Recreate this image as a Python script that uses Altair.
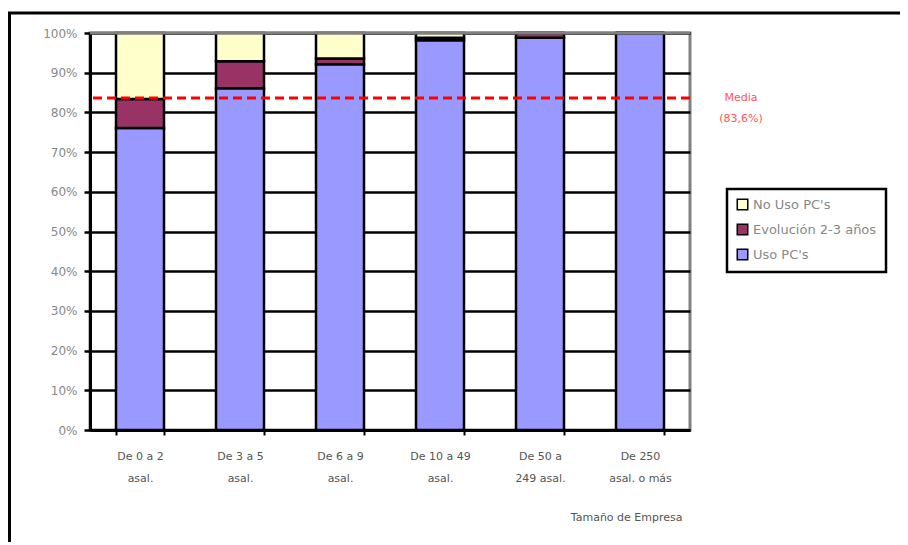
import altair as alt
import pandas as pd

categories = ["De 0 a 2|asal.", "De 3 a 5|asal.", "De 6 a 9|asal.",
              "De 10 a 49|asal.", "De 50 a|249 asal.", "De 250|asal. o más"]
series = ["No Uso PC's", "Evolución 2-3 años", "Uso PC's"]
uso = [76.1, 86.1, 92.1, 98.2, 98.8, 100.0]
evol = [7.3, 6.8, 1.5, 0.6, 1.2, 0.0]
no_uso = [16.6, 7.1, 6.4, 1.2, 0.0, 0.0]
media = 83.6
ytick_values = [0, 10, 20, 30, 40, 50, 60, 70, 80, 90, 100]
colors = ["#FFFFCC", "#993366", "#9999FF"]

rows = []
for i, c in enumerate(categories):
    for s, vals, o in [(series[2], uso, 0), (series[1], evol, 1), (series[0], no_uso, 2)]:
        rows.append({"cat": c, "serie": s, "val": vals[i], "ord": o})
df = pd.DataFrame(rows)

FONT = "DejaVu Sans"

frame = alt.Chart(pd.DataFrame({"a": [0]})).mark_rect(
    fill=None, stroke="black", strokeWidth=3, clip=False
).encode(x=alt.value(-80.5), x2=alt.value(1000), y=alt.value(-20), y2=alt.value(700))

yscale = alt.Scale(domain=[0, 100])
yaxis = alt.Axis(title=None, values=ytick_values,
                 labelExpr="datum.value + '%'",
                 labelFont=FONT, labelFontSize=12, labelColor="#888888",
                 labelPadding=7,
                 grid=True, gridColor="black", gridWidth=2.5,
                 tickColor="black", tickWidth=2.5, tickSize=6,
                 domainColor="black", domainWidth=3)

bars = alt.Chart(df).mark_bar(stroke="black", strokeWidth=2.5).encode(
    x=alt.X("cat:N", sort=categories,
            scale=alt.Scale(paddingInner=0.52, paddingOuter=0.26),
            axis=alt.Axis(title="Tamaño de Empresa", labelAngle=0,
                          labelExpr="split(datum.label, '|')",
                          labelFont=FONT, labelFontSize=11, labelColor="#555555",
                          labelPadding=15, labelLineHeight=22,
                          tickBand="extent", tickColor="black", tickWidth=2, tickSize=5,
                          domainColor="black", domainWidth=3,
                          titleFont=FONT, titleFontSize=11, titleFontWeight="normal",
                          titleColor="#555555", titlePadding=28,
                          titleX=592, titleAlign="right")),
    y=alt.Y("val:Q", stack="zero", scale=yscale, axis=yaxis),
    color=alt.Color("serie:N", sort=series,
                    scale=alt.Scale(domain=series, range=colors),
                    legend=alt.Legend(title=None, orient="none", legendX=637, legendY=156,
                                      direction="vertical",
                                      strokeColor="black",
                                      padding=9, rowPadding=8,
                                      symbolType="square", symbolSize=110,
                                      symbolStrokeColor="black", symbolStrokeWidth=1.5,
                                      labelFont=FONT, labelFontSize=13, labelColor="#888888",
                                      fillColor="white")),
    order=alt.Order("ord:Q"),
)

topline = alt.Chart(pd.DataFrame({"v": [100]})).mark_rule(color="gray", strokeWidth=3).encode(
    y=alt.Y("v:Q", scale=yscale, axis=yaxis))

line = alt.Chart(pd.DataFrame({"v": [media]})).mark_rule(
    color="red", strokeWidth=3, strokeDash=[9, 5]).encode(
    y=alt.Y("v:Q", scale=yscale, axis=yaxis))

txt = alt.Chart(pd.DataFrame({"v": [media]})).mark_text(
    color="#FF5555", font=FONT, fontSize=11, align="center", baseline="middle",
    lineHeight=21, dy=0
).encode(y=alt.Y("v:Q", scale=yscale, axis=yaxis), x=alt.value(651),
         text=alt.value(["Media", "(83,6%)"]))

chart = alt.layer(frame, bars, topline, line, txt).properties(
    width=600, height=397,
    autosize=alt.AutoSizeParams(type="none"),
    padding={"left": 82, "top": 25, "right": 210, "bottom": 112},
).configure_view(stroke="gray", strokeWidth=3).configure_legend(strokeWidth=2.5)

chart.save("out.html", embed_options={"renderer": "svg", "actions": False})
